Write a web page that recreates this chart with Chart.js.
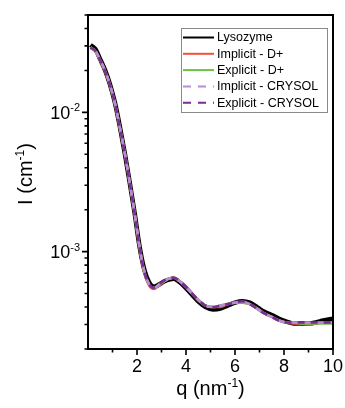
<!DOCTYPE html>
<html>
<head>
<meta charset="utf-8">
<script src="https://cdn.jsdelivr.net/npm/chart.js@4.4.0/dist/chart.umd.min.js"></script>
<style>
  html, body { margin: 0; padding: 0; background: #fff; }
</style>
</head>
<body>
<canvas id="saxs_chart" width="345" height="408"></canvas>
<script>
// scattering vector q (nm^-1)
const q = [0.1, 0.3, 0.5, 0.7, 0.9, 1.1, 1.3, 1.5, 1.7, 1.9, 2.1, 2.3, 2.5, 2.7, 2.9, 3.1, 3.3, 3.5, 3.7, 3.9,
  4.2, 4.5, 4.8, 5.1, 5.4, 5.7, 6.0, 6.3, 6.6, 6.9, 7.2, 7.5, 7.8, 8.1, 8.4, 8.7, 9.0, 9.3, 9.6, 10.0];

// intensities I (cm^-1)
const lysozyme = [0.0305, 0.0285, 0.0240, 0.0200, 0.0158, 0.0117, 0.0079, 0.0051, 0.00316, 0.00191,
  0.00110, 0.00074, 0.00060, 0.00056, 0.00058, 0.00061, 0.00063, 0.00064, 0.00061, 0.00057,
  0.00050, 0.00044, 0.00040, 0.000385, 0.00039, 0.00041, 0.00043, 0.00044, 0.00043, 0.00040,
  0.00037, 0.00035, 0.00033, 0.000315, 0.000305, 0.000305, 0.000305, 0.00031, 0.00032, 0.00033];
const implicitDplus = [0.0292, 0.0276, 0.0236, 0.0197, 0.0156, 0.0116, 0.0078, 0.0051, 0.00314, 0.00189,
  0.00108, 0.00071, 0.00057, 0.00054, 0.00057, 0.00061, 0.00064, 0.00065, 0.00062, 0.00058,
  0.00051, 0.00045, 0.00041, 0.00040, 0.00040, 0.00042, 0.00043, 0.00043, 0.00042, 0.00039,
  0.00036, 0.00034, 0.00032, 0.00031, 0.000305, 0.000305, 0.00030, 0.000305, 0.00031, 0.00031];
const explicitDplus = [0.0290, 0.0275, 0.0236, 0.0198, 0.0157, 0.0116, 0.0078, 0.0051, 0.00315, 0.00190,
  0.00109, 0.00072, 0.00058, 0.00055, 0.00058, 0.00061, 0.00064, 0.00065, 0.00062, 0.00058,
  0.00051, 0.00045, 0.00041, 0.00040, 0.00041, 0.00042, 0.00043, 0.00043, 0.00042, 0.00039,
  0.00036, 0.00034, 0.00032, 0.00031, 0.00031, 0.000305, 0.000305, 0.000305, 0.000305, 0.000305];
const implicitCrysol = [0.0293, 0.0277, 0.0237, 0.0198, 0.0157, 0.0116, 0.0078, 0.0051, 0.00315, 0.00190,
  0.00109, 0.00072, 0.00058, 0.00055, 0.00058, 0.00062, 0.00064, 0.00065, 0.00062, 0.00058,
  0.00051, 0.00045, 0.00041, 0.00040, 0.00041, 0.00042, 0.00043, 0.00044, 0.00042, 0.00039,
  0.00036, 0.00034, 0.00032, 0.00031, 0.00031, 0.00031, 0.00031, 0.00031, 0.00031, 0.00031];
const explicitCrysol = [0.0291, 0.0276, 0.0236, 0.0197, 0.0157, 0.0116, 0.0078, 0.0051, 0.00315, 0.00190,
  0.00109, 0.00072, 0.00058, 0.00055, 0.00058, 0.00062, 0.00064, 0.00065, 0.00062, 0.00058,
  0.00051, 0.00045, 0.00041, 0.00040, 0.00041, 0.00042, 0.00043, 0.00044, 0.00042, 0.00039,
  0.00036, 0.00034, 0.00032, 0.00031, 0.00031, 0.00031, 0.00031, 0.00031, 0.00031, 0.00031];

const seriesNames = ["Lysozyme", "Implicit - D+", "Explicit - D+", "Implicit - CRYSOL", "Explicit - CRYSOL"];
const xTickValues = [2, 4, 6, 8, 10];
const yTickExponents = [-2, -3];

const FONT = "'Liberation Sans', Arial, Helvetica, sans-serif";

function toPoints(values) {
  return q.map((x, i) => ({ x: x, y: values[i] }));
}

// text made of normal and superscript parts
function richWidth(ctx, parts, size) {
  let w = 0;
  parts.forEach((p) => {
    ctx.font = (p.sup ? Math.round(size * 0.62) : size) + "px " + FONT;
    w += ctx.measureText(p.text).width;
  });
  return w;
}
function drawRich(ctx, parts, size, x, baseline) {
  let cx = x;
  parts.forEach((p) => {
    ctx.font = (p.sup ? Math.round(size * 0.62) : size) + "px " + FONT;
    ctx.fillText(p.text, cx, p.sup ? baseline - size * 0.42 : baseline);
    cx += ctx.measureText(p.text).width;
  });
}

const decorations = {
  id: "decorations",
  afterDraw(chart) {
    const { ctx, chartArea: a, scales } = chart;
    const x = scales.x, y = scales.y;
    ctx.save();
    ctx.strokeStyle = "#000";
    ctx.fillStyle = "#000";

    // frame
    ctx.lineWidth = 2;
    ctx.strokeRect(a.left, a.top, a.right - a.left, a.bottom - a.top);

    // tick marks
    ctx.lineWidth = 1.6;
    ctx.beginPath();
    for (let v = 1; v <= 10; v++) {
      const px = x.getPixelForValue(v);
      const len = v % 2 === 0 ? 6 : 3.5;
      ctx.moveTo(px, a.bottom);
      ctx.lineTo(px, a.bottom + len);
    }
    for (let e = -4; e <= -2; e++) {
      for (let m = 1; m <= 9; m++) {
        const v = m * Math.pow(10, e);
        if (v < y.min || v > y.max) continue;
        const py = y.getPixelForValue(v);
        const len = m === 1 ? 6 : 3.5;
        ctx.moveTo(a.left, py);
        ctx.lineTo(a.left - len, py);
      }
    }
    ctx.stroke();

    // y tick labels 10^-n
    ctx.textAlign = "left";
    ctx.textBaseline = "alphabetic";
    yTickExponents.forEach((e) => {
      const py = y.getPixelForValue(Math.pow(10, e));
      const parts = [{ text: "10" }, { text: String(e), sup: true }];
      const w = richWidth(ctx, parts, 18);
      drawRich(ctx, parts, 18, a.left - 8 - w, py + 6.5);
    });

    // axis titles
    const xt = [{ text: "q (nm" }, { text: "-1", sup: true }, { text: ")" }];
    const xw = richWidth(ctx, xt, 20);
    drawRich(ctx, xt, 20, (a.left + a.right) / 2 - xw / 2, 395);

    const yt = [{ text: "I (cm" }, { text: "-1", sup: true }, { text: ")" }];
    const yw = richWidth(ctx, yt, 20);
    ctx.save();
    ctx.translate(32, 174);
    ctx.rotate(-Math.PI / 2);
    drawRich(ctx, yt, 20, -yw / 2, 0);
    ctx.restore();

    // legend box
    const bw = 146, bh = 84;
    const bx = a.right - bw - 6, by = a.top + 13;
    ctx.fillStyle = "#fff";
    ctx.fillRect(bx, by, bw, bh);
    ctx.strokeStyle = "#8a8a8a";
    ctx.lineWidth = 1;
    ctx.strokeRect(bx + 0.5, by + 0.5, bw, bh);
    ctx.font = "12.5px " + FONT;
    ctx.textBaseline = "middle";
    chart.data.datasets.forEach((ds, i) => {
      const ry = by + 9.5 + i * 16.3;
      ctx.strokeStyle = ds.borderColor;
      ctx.lineWidth = 2;
      ctx.setLineDash(ds.borderDash && ds.borderDash.length ? [8, 7] : []);
      ctx.beginPath();
      ctx.moveTo(bx + 2, ry);
      ctx.lineTo(bx + 33, ry);
      ctx.stroke();
      ctx.setLineDash([]);
      ctx.fillStyle = "#000";
      ctx.fillText(ds.label, bx + 36, ry + 0.5);
    });
    ctx.restore();
  },
};

const ctx = document.getElementById("saxs_chart");
new Chart(ctx, {
  type: "line",
  data: {
    datasets: [
      { label: seriesNames[0], data: toPoints(lysozyme), borderColor: "#000000", borderWidth: 4.5, order: 5 },
      { label: seriesNames[1], data: toPoints(implicitDplus), borderColor: "#f0513a", borderWidth: 2.6, order: 4 },
      { label: seriesNames[2], data: toPoints(explicitDplus), borderColor: "#6cbf48", borderWidth: 2.6, order: 3 },
      { label: seriesNames[3], data: toPoints(implicitCrysol), borderColor: "#b98ad8", borderWidth: 2.6, borderDash: [7, 6], borderDashOffset: 6, order: 2 },
      { label: seriesNames[4], data: toPoints(explicitCrysol), borderColor: "#7a2d97", borderWidth: 2.6, borderDash: [7, 6], order: 1 },
    ],
  },
  options: {
    responsive: false,
    animation: false,
    devicePixelRatio: 1,
    layout: { padding: { top: 15, right: 12, left: 0, bottom: 0 } },
    elements: {
      point: { radius: 0 },
      line: { cubicInterpolationMode: "monotone", fill: false },
    },
    plugins: {
      legend: { display: false },
      tooltip: { enabled: false },
    },
    scales: {
      x: {
        type: "linear",
        min: 0,
        max: 10,
        grid: { display: false, drawTicks: false },
        border: { display: false },
        afterBuildTicks: (scale) => {
          scale.ticks = xTickValues.map((v) => ({ value: v }));
        },
        afterFit: (scale) => {
          scale.height = 59;
          scale.paddingLeft = 0;
          scale.paddingRight = 0;
        },
        ticks: {
          padding: 7,
          color: "#000",
          maxRotation: 0,
          font: { family: FONT, size: 18 },
        },
      },
      y: {
        type: "logarithmic",
        min: 0.0002,
        max: 0.05,
        grid: { display: false, drawTicks: false },
        border: { display: false },
        ticks: { display: false },
        afterFit: (scale) => {
          scale.width = 88;
        },
      },
    },
  },
  plugins: [decorations],
});
</script>
</body>
</html>
